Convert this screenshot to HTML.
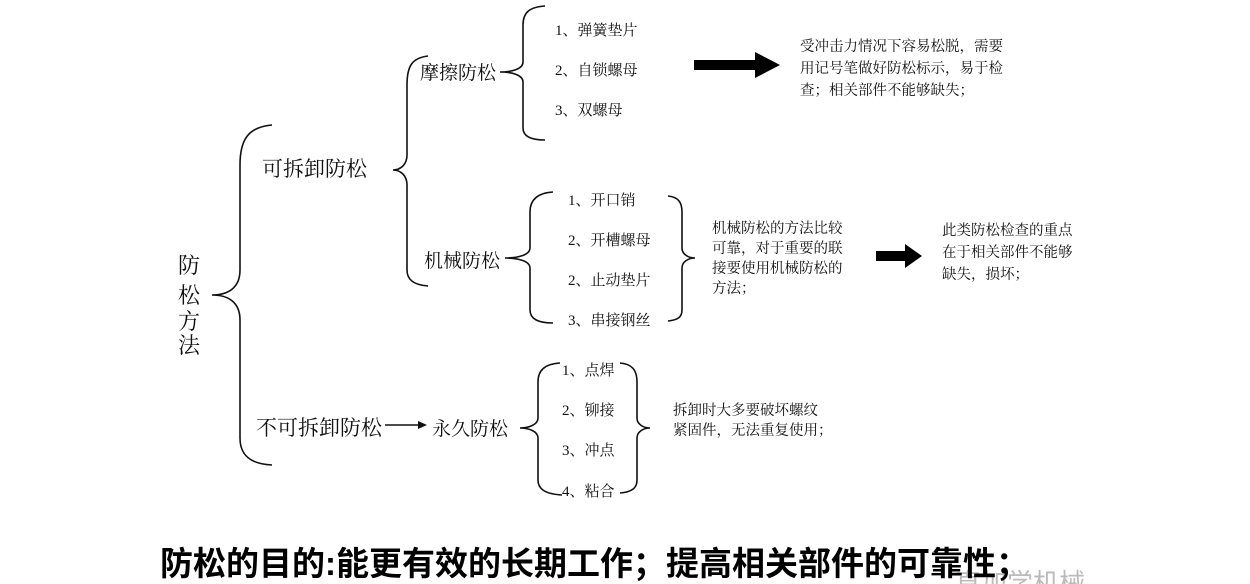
<!DOCTYPE html>
<html><head><meta charset="utf-8"><style>
html,body{margin:0;padding:0;background:#fff;}
svg{display:block;}
.s{font-family:"Liberation Serif","Noto Serif CJK SC",serif;fill:#111;}
.b{font-family:"Liberation Sans","Noto Sans CJK SC",sans-serif;font-weight:bold;fill:#000;}
path{fill:none;stroke:#111;stroke-width:1.6;}
</style></head><body>
<svg width="1250" height="584" viewBox="0 0 1250 584" xmlns="http://www.w3.org/2000/svg">
<!-- big brace -->
<path d="M272,125 C248,127 240,140 240,165 L240,270 C240,288 228,295 212,295 C228,295 240,302 240,320 L240,438 C240,455 250,464 272,465"/>
<g class="s" font-size="22"><text x="178" y="273">防</text><text x="178" y="303">松</text><text x="178" y="329">方</text><text x="178" y="353">法</text></g>
<text class="s" x="262" y="176" font-size="21">可拆卸防松</text>
<!-- brace 2 -->
<path d="M428,56 C412,58 407,66 407,85 L407,155 C407,165 400,170 393,170 C400,170 407,175 407,185 L407,270 C407,280 414,285 428,286"/>
<text class="s" x="420" y="79" font-size="19">摩擦防松</text>
<text class="s" x="424" y="267" font-size="19">机械防松</text>
<!-- brace 3 -->
<path d="M545,6 C530,7 523,12 523,25 L523,62 C523,69 512,72 500,72 C512,72 523,75 523,82 L523,128 C523,136 530,140 545,140"/>
<g class="s" font-size="15"><text x="555" y="35">1、弹簧垫片</text><text x="555" y="75">2、自锁螺母</text><text x="555" y="115">3、双螺母</text></g>
<polygon points="694,60 755,60 755,52 780,65 755,78 755,70 694,70" fill="#000"/>
<g class="s" font-size="14.5"><text x="800" y="51">受冲击力情况下容易松脱，需要</text><text x="800" y="73">用记号笔做好防松标示，易于检</text><text x="800" y="95">查；相关部件不能够缺失；</text></g>
<!-- brace 4 -->
<path d="M553,192 C537,193 530,200 530,212 L530,248 C530,255 518,258 505,258 C518,258 530,261 530,268 L530,310 C530,318 537,323 553,323"/>
<g class="s" font-size="15"><text x="568" y="205">1、开口销</text><text x="568" y="245">2、开槽螺母</text><text x="568" y="285">2、止动垫片</text><text x="568" y="325">3、串接钢丝</text></g>
<path d="M668,196 C678,197 682,202 682,212 L682,248 C682,254 688,258 695,258 C688,258 682,262 682,268 L682,310 C682,317 678,320 668,321"/>
<g class="s" font-size="14.5"><text x="712" y="233">机械防松的方法比较</text><text x="712" y="253">可靠，对于重要的联</text><text x="712" y="273">接要使用机械防松的</text><text x="712" y="293">方法；</text></g>
<polygon points="876,251 905,251 905,244 922,256 905,268 905,261 876,261" fill="#000"/>
<g class="s" font-size="14.5"><text x="942" y="235">此类防松检查的重点</text><text x="942" y="257">在于相关部件不能够</text><text x="942" y="279">缺失，损坏；</text></g>
<!-- bottom branch -->
<text class="s" x="256" y="435" font-size="21">不可拆卸防松</text>
<line x1="385" y1="425" x2="420" y2="425" stroke="#111" stroke-width="1.6"/>
<polygon points="418,421 427,425 418,429" fill="#111"/>
<text class="s" x="432" y="435" font-size="19">永久防松</text>
<path d="M560,363 C545,364 538,370 538,382 L538,418 C538,425 528,428 520,428 C528,428 538,431 538,438 L538,480 C538,489 545,494 562,495"/>
<g class="s" font-size="15"><text x="562" y="375">1、点焊</text><text x="562" y="415">2、铆接</text><text x="562" y="455">3、冲点</text><text x="562" y="496">4、粘合</text></g>
<path d="M620,363 C632,364 637,370 637,382 L637,418 C637,424 643,428 650,428 C643,428 637,432 637,438 L637,480 C637,488 632,492 620,493"/>
<g class="s" font-size="14.5"><text x="673" y="415">拆卸时大多要破坏螺纹</text><text x="673" y="435">紧固件，无法重复使用；</text></g>
<text x="955" y="592" font-size="26" fill="#bbb" font-family="Liberation Sans,Noto Sans CJK SC,sans-serif">直加学机械</text>
<text class="b" x="160" y="575" font-size="33">防松的目的:能更有效的长期工作；提高相关部件的可靠性；</text>
</svg>
</body></html>
